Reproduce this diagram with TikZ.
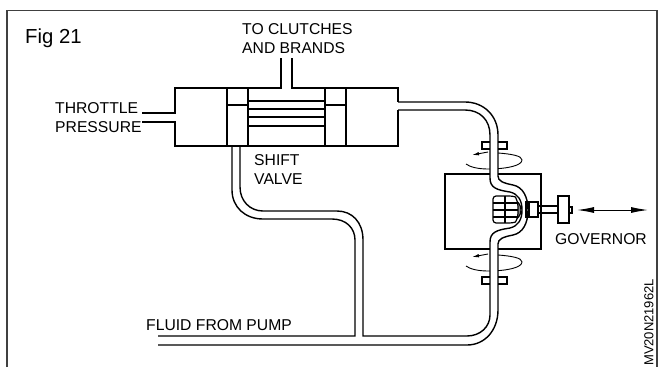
\documentclass[tikz,border=0pt]{standalone}
\usepackage{fontspec}
\setmainfont{Liberation Sans}
\usetikzlibrary{arrows.meta}

\begin{document}
\begin{tikzpicture}[
    x=1pt,
    y=-1pt,
    line join=miter,
    label/.style={
        inner sep=0pt,
        anchor=west,
        align=left,
        yshift=-1pt,
        font=\fontsize{15.7}{19}\selectfont
    },
    part/.style={
        draw,
        line width=1.4pt
    },
    thinpart/.style={
        draw,
        line width=1.2pt
    },
    pipe/.style={
        draw,
        line width=1.4pt
    },
    stroke/.style={
        {Latex[length=17pt,width=6pt]}-{Latex[length=17pt,width=6pt]},
        line width=1pt
    },
    spin/.style={
        line width=0.9pt
    }
]

\useasboundingbox (0,0) rectangle (664,367);

\draw[line width=1.4pt, black!75] (7,367) -- (7,10.5) -- (657,10.5) -- (657,367);

\node[label, font=\fontsize{20.3}{24}\selectfont] (figlabel) at (25,37) {Fig 21};
\node[label] (clutches) at (242,37.5) {TO CLUTCHES\\AND BRANDS};
\node[label] (throttle) at (55,117) {THROTTLE\\PRESSURE};
\node[label] (shift) at (254,168.5) {SHIFT\\VALVE};
\node[label] (pump) at (146,324) {FLUID FROM PUMP};
\node[label] (governor) at (555,238) {GOVERNOR};
\node[label, yshift=1pt, font=\fontsize{13}{15}\selectfont, rotate=90] (partno) at (649,366) {MV20N21962L};

\draw[part] (142,113) -- (175,113) -- (175,88) -- (281,88) -- (281,58);
\draw[part] (292,58) -- (292,88) -- (398,88) -- (398,102);
\draw[part] (142,122) -- (175,122) -- (175,146) -- (398,146) -- (398,110);

\draw[part] (227,88) rectangle (248,146);
\draw[part] (325,88) rectangle (346,146);
\draw[part] (227,105) -- (248,105);
\draw[part] (325,105) -- (346,105);
\foreach \liney in {101,109,117,126}
    \draw[part] (248,\liney) -- (325,\liney);

\draw[part] (445,174) rectangle (541,249);
\draw[part] (482,142) rectangle (507,149);
\draw[part] (482,277) rectangle (507,284);

\foreach \spiny in {0,102} {
    \draw[spin] (498,{153+\spiny}) .. controls (512,{154+\spiny}) and (522,{156+\spiny}) .. (522,{160+\spiny})
        .. controls (522,{166+\spiny}) and (505,{169+\spiny}) .. (488,{169+\spiny})
        .. controls (478,{169+\spiny}) and (470,{167+\spiny}) .. (466,{164+\spiny});
    \draw[spin, -{Latex[length=7pt,width=3.5pt]}] (488,{152+\spiny}) -- (472,{155+\spiny});
}

\fill[white] (490,140) rectangle (498,180);
\fill[white] (490,240) rectangle (498,290);

\filldraw[thinpart, fill=black!45] (512,198) .. controls (518,201) and (521,205) .. (521,210)
    .. controls (521,215) and (518,219) .. (512,222) -- cycle;
\filldraw[thinpart, fill=white, rounded corners=3pt] (493,196) -- (512,196) .. controls (516,197) and (518,203) .. (518,210)
    .. controls (518,217) and (516,222) .. (512,223) -- (493,223) -- cycle;
\draw[thinpart] (505,196) -- (505,223);
\draw[thinpart] (493,203) -- (518,203);
\draw[thinpart] (493,210) -- (518,210);
\draw[thinpart] (493,217) -- (518,217);

\draw[part] (526,202) rectangle (538,217);
\draw[thinpart] (529,202) -- (529,217);
\draw[thinpart] (538,206) rectangle (558,213);
\draw[part, fill=white] (558,196) rectangle (569,223);
\draw[thinpart] (569,207) rectangle (572,213);

\coordinate (strokeleft) at (577,210);
\coordinate (strokeright) at (648,210);
\draw[stroke] (strokeleft) -- (strokeright);

\draw[pipe] (398,102) -- (465,102) .. controls (484,102) and (498,116) .. (498,135) -- (498,176)
    .. controls (498,181) and (503,183) .. (513,185) .. controls (523,187) and (528,197) .. (528,210)
    .. controls (528,223) and (523,233) .. (513,235) .. controls (503,237) and (498,239) .. (498,244)
    -- (498,310) .. controls (498,330) and (485,345) .. (467,345) -- (158,345);
\draw[pipe] (398,110) -- (465,110) .. controls (480,110) and (490,120) .. (490,135) -- (490,178)
    .. controls (490,188) and (497,190) .. (510,192) .. controls (518,194) and (522,200) .. (522,210)
    .. controls (522,220) and (518,226) .. (510,228) .. controls (497,230) and (490,232) .. (490,242)
    -- (490,315) .. controls (490,327) and (480,336) .. (467,336) -- (363,336) -- (363,240)
    .. controls (363,222) and (352,211) .. (337,211) -- (263,211)
    .. controls (250,211) and (240,201) .. (240,187) -- (240,146);
\draw[pipe] (232,146) -- (232,190) .. controls (232,207) and (245,219) .. (263,219) -- (332,219)
    .. controls (346,219) and (355,228) .. (355,240) -- (355,336) -- (158,336);

\end{tikzpicture}
\end{document}
